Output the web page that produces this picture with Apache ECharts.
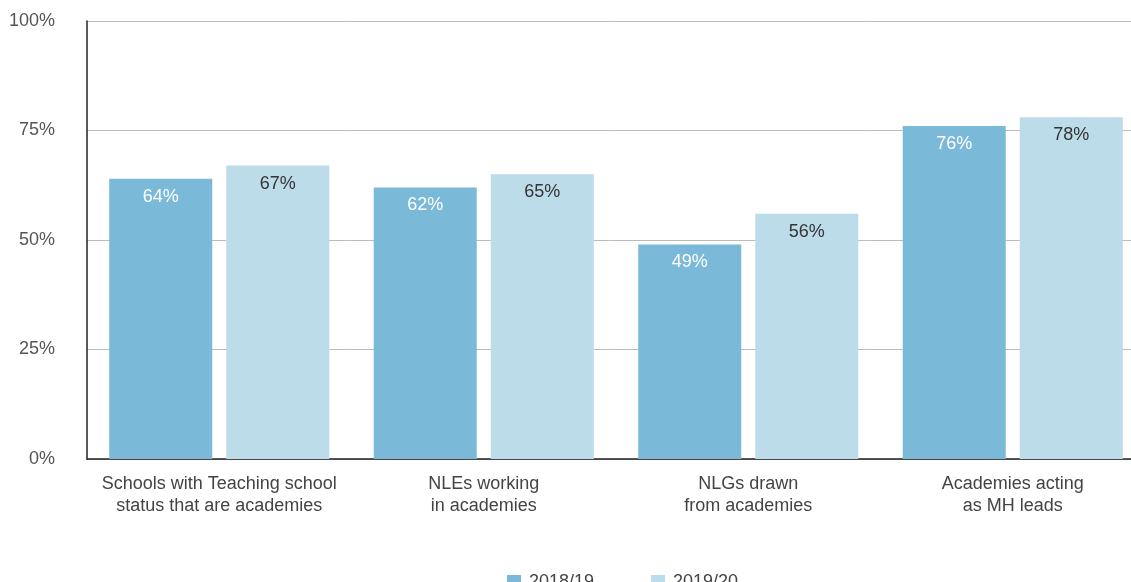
<!DOCTYPE html>
<html>
<head>
<meta charset="utf-8">
<script src="https://cdn.jsdelivr.net/npm/echarts@6/dist/echarts.min.js"></script>
<style>html,body{margin:0;padding:0;background:#fff;}#c{width:1131px;height:582px;}</style>
</head>
<body>
<div id="c"></div>
<script>
var categories = [
  "Schools with Teaching school\nstatus that are academies",
  "NLEs working\nin academies",
  "NLGs drawn\nfrom academies",
  "Academies acting\nas MH leads"
];
var seriesNames = ["2018/19", "2019/20"];
var values2018 = [64, 62, 49, 76];
var values2019 = [67, 65, 56, 78];
var yTicks = [0, 25, 50, 75, 100];

var font = "Liberation Sans, Arial, sans-serif";
var chart = echarts.init(document.getElementById('c'));
chart.setOption({
  animation: false,
  textStyle: {fontFamily: font},
  grid: {left: 87, width: 1058, top: 21, height: 438, containLabel: false, outerBoundsMode: 'none'},
  legend: {
    data: seriesNames, top: 568, left: 502, itemWidth: 14, itemHeight: 14, itemGap: 57,
    icon: 'rect', textStyle: {fontSize: 18, color: '#444', fontFamily: font, padding: [0, 0, 0, 3]}
  },
  xAxis: {
    type: 'category', data: categories,
    axisLine: {lineStyle: {color: '#222', width: 1.5}},
    axisTick: {show: false},
    axisLabel: {fontSize: 18, color: '#444', lineHeight: 22, margin: 14, interval: 0}
  },
  yAxis: {
    type: 'value', min: 0, max: 100, interval: 25,
    axisLine: {show: true, lineStyle: {color: '#222', width: 1.5}},
    axisTick: {show: false},
    splitLine: {lineStyle: {color: '#bbb', width: 1}},
    axisLabel: {fontSize: 18, color: '#555', margin: 32, formatter: function(v){return yTicks.indexOf(v) >= 0 ? v + '%' : '';}}
  },
  series: [
    {name: seriesNames[0], type: 'bar', data: values2018, barGap: '13.6%', barCategoryGap: '16.8%',
     itemStyle: {color: '#7ab9d8'},
     label: {show: true, position: 'insideTop', distance: 9, color: '#fff', fontSize: 18, formatter: '{c}%'}},
    {name: seriesNames[1], type: 'bar', data: values2019,
     itemStyle: {color: '#bddcea'},
     label: {show: true, position: 'insideTop', distance: 9, color: '#333', fontSize: 18, formatter: '{c}%'}}
  ]
});
</script>
</body>
</html>
